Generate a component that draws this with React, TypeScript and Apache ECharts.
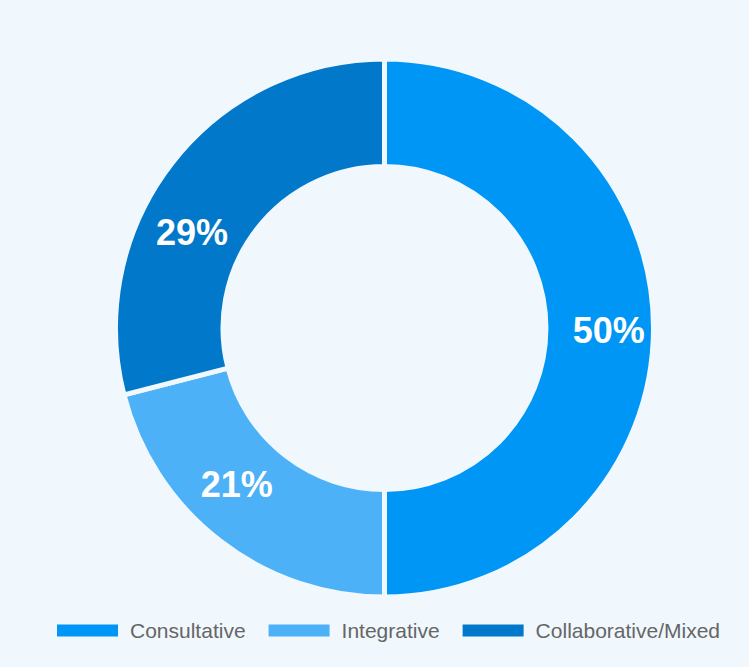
import React, { useEffect, useRef } from "react";
import * as echarts from "echarts";

const categories = ["Consultative", "Integrative", "Collaborative/Mixed"];
const values = [50, 21, 29];
const colors = ["#0096F5", "#4DB1F8", "#0278CA"];
const background = "#F0F8FE";
// small nudges of the percentage labels to match the reference placement
const labelShift = [
  [6, 2],
  [-14, -16],
  [-20, 38],
];

export default function App() {
  const ref = useRef<HTMLDivElement>(null);
  useEffect(() => {
    document.body.style.margin = "0";
    const chart = echarts.init(ref.current!, null, { renderer: "svg" });
    chart.setOption({
      animation: false,
      backgroundColor: background,
      color: colors,
      legend: {
        data: categories,
        left: 50,
        top: 615,
        itemWidth: 63,
        itemHeight: 14,
        itemGap: 21,
        icon: "rect",
        textStyle: {
          fontSize: 21,
          lineHeight: 20,
          color: "#666666",
          fontFamily: "Liberation Sans, Arial, sans-serif",
          padding: [0, 0, 0, 6],
        },
      },
      series: [
        {
          type: "pie",
          center: [384.5, 328],
          radius: [161.5, 269],
          startAngle: 90,
          clockwise: true,
          avoidLabelOverlap: false,
          itemStyle: { borderColor: background, borderWidth: 5 },
          label: {
            show: true,
            position: "inside",
            formatter: "{d}%",
            color: "#ffffff",
            fontSize: 36,
            fontWeight: "bold",
            fontFamily: "Liberation Sans, Arial, sans-serif",
          },
          labelLayout: (params: any) => ({
            dx: labelShift[params.dataIndex][0],
            dy: labelShift[params.dataIndex][1],
          }),
          labelLine: { show: false },
          emphasis: { disabled: true },
          data: categories.map((name, i) => ({ name, value: values[i] })),
        },
      ],
    });
    return () => chart.dispose();
  }, []);
  return (
    <div
      ref={ref}
      style={{ position: "fixed", left: 0, top: 0, width: 749, height: 667 }}
    />
  );
}
